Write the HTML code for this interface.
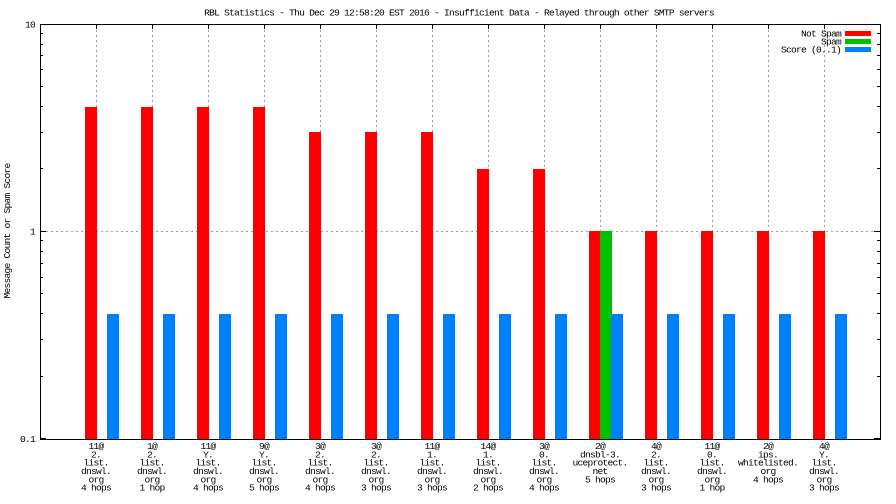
<!DOCTYPE html>
<html>
<head>
<meta charset="utf-8">
<style>
html,body{margin:0;padding:0;background:#fff;}
svg{display:block;}
text{font-family:"Liberation Mono","DejaVu Sans Mono",monospace;font-size:9.6px;letter-spacing:-0.76px;fill:#000;}
</style>
</head>
<body>
<svg width="896" height="504" viewBox="0 0 896 504" xmlns="http://www.w3.org/2000/svg">
<rect x="0" y="0" width="896" height="504" fill="#fff"/>

<!-- grid -->
<g stroke="#a0a0a0" stroke-width="1" stroke-dasharray="2,3" shape-rendering="crispEdges">
  <line x1="41" y1="231.5" x2="880" y2="231.5"/>
  <line x1="96.5" y1="25" x2="96.5" y2="439"/>
  <line x1="152.5" y1="25" x2="152.5" y2="439"/>
  <line x1="208.5" y1="25" x2="208.5" y2="439"/>
  <line x1="264.5" y1="25" x2="264.5" y2="439"/>
  <line x1="320.5" y1="25" x2="320.5" y2="439"/>
  <line x1="376.5" y1="25" x2="376.5" y2="439"/>
  <line x1="432.5" y1="25" x2="432.5" y2="439"/>
  <line x1="488.5" y1="25" x2="488.5" y2="439"/>
  <line x1="544.5" y1="25" x2="544.5" y2="439"/>
  <line x1="600.5" y1="25" x2="600.5" y2="439"/>
  <line x1="656.5" y1="25" x2="656.5" y2="439"/>
  <line x1="712.5" y1="25" x2="712.5" y2="439"/>
  <line x1="768.5" y1="25" x2="768.5" y2="439"/>
  <line x1="824.5" y1="25" x2="824.5" y2="439"/>
</g>

<!-- bars -->
<g shape-rendering="crispEdges">
  <g fill="#ff0000">
    <rect x="85" y="107" width="12" height="332"/>
    <rect x="141" y="107" width="12" height="332"/>
    <rect x="197" y="107" width="12" height="332"/>
    <rect x="253" y="107" width="12" height="332"/>
    <rect x="309" y="132" width="12" height="307"/>
    <rect x="365" y="132" width="12" height="307"/>
    <rect x="421" y="132" width="12" height="307"/>
    <rect x="477" y="169" width="12" height="270"/>
    <rect x="533" y="169" width="12" height="270"/>
    <rect x="589" y="231" width="12" height="208"/>
    <rect x="645" y="231" width="12" height="208"/>
    <rect x="701" y="231" width="12" height="208"/>
    <rect x="757" y="231" width="12" height="208"/>
    <rect x="813" y="231" width="12" height="208"/>
  </g>
  <rect x="600" y="231" width="12" height="208" fill="#00c000"/>
  <g fill="#0080ff">
    <rect x="107" y="314" width="12" height="125"/>
    <rect x="163" y="314" width="12" height="125"/>
    <rect x="219" y="314" width="12" height="125"/>
    <rect x="275" y="314" width="12" height="125"/>
    <rect x="331" y="314" width="12" height="125"/>
    <rect x="387" y="314" width="12" height="125"/>
    <rect x="443" y="314" width="12" height="125"/>
    <rect x="499" y="314" width="12" height="125"/>
    <rect x="555" y="314" width="12" height="125"/>
    <rect x="611" y="314" width="12" height="125"/>
    <rect x="667" y="314" width="12" height="125"/>
    <rect x="723" y="314" width="12" height="125"/>
    <rect x="779" y="314" width="12" height="125"/>
    <rect x="835" y="314" width="12" height="125"/>
  </g>
</g>

<!-- border and ticks -->
<g stroke="#000" stroke-width="1" fill="none" shape-rendering="crispEdges">
  <rect x="40.5" y="24.5" width="840" height="415"/>
  <line x1="40" y1="24.5" x2="46" y2="24.5"/>
  <line x1="40" y1="231.5" x2="46" y2="231.5"/>
  <line x1="40" y1="438.5" x2="46" y2="438.5"/>
  <line x1="874" y1="24.5" x2="880" y2="24.5"/>
  <line x1="874" y1="231.5" x2="880" y2="231.5"/>
  <line x1="874" y1="438.5" x2="880" y2="438.5"/>
  <line x1="40" y1="33.5" x2="43" y2="33.5"/>
  <line x1="40" y1="44.5" x2="43" y2="44.5"/>
  <line x1="40" y1="55.5" x2="43" y2="55.5"/>
  <line x1="40" y1="69.5" x2="43" y2="69.5"/>
  <line x1="40" y1="86.5" x2="43" y2="86.5"/>
  <line x1="40" y1="106.5" x2="43" y2="106.5"/>
  <line x1="40" y1="132.5" x2="43" y2="132.5"/>
  <line x1="40" y1="168.5" x2="43" y2="168.5"/>
  <line x1="40" y1="240.5" x2="43" y2="240.5"/>
  <line x1="40" y1="251.5" x2="43" y2="251.5"/>
  <line x1="40" y1="263.5" x2="43" y2="263.5"/>
  <line x1="40" y1="277.5" x2="43" y2="277.5"/>
  <line x1="40" y1="293.5" x2="43" y2="293.5"/>
  <line x1="40" y1="313.5" x2="43" y2="313.5"/>
  <line x1="40" y1="339.5" x2="43" y2="339.5"/>
  <line x1="40" y1="376.5" x2="43" y2="376.5"/>
  <line x1="877" y1="33.5" x2="880" y2="33.5"/>
  <line x1="877" y1="44.5" x2="880" y2="44.5"/>
  <line x1="877" y1="55.5" x2="880" y2="55.5"/>
  <line x1="877" y1="69.5" x2="880" y2="69.5"/>
  <line x1="877" y1="86.5" x2="880" y2="86.5"/>
  <line x1="877" y1="106.5" x2="880" y2="106.5"/>
  <line x1="877" y1="132.5" x2="880" y2="132.5"/>
  <line x1="877" y1="168.5" x2="880" y2="168.5"/>
  <line x1="877" y1="240.5" x2="880" y2="240.5"/>
  <line x1="877" y1="251.5" x2="880" y2="251.5"/>
  <line x1="877" y1="263.5" x2="880" y2="263.5"/>
  <line x1="877" y1="277.5" x2="880" y2="277.5"/>
  <line x1="877" y1="293.5" x2="880" y2="293.5"/>
  <line x1="877" y1="313.5" x2="880" y2="313.5"/>
  <line x1="877" y1="339.5" x2="880" y2="339.5"/>
  <line x1="877" y1="376.5" x2="880" y2="376.5"/>
  <line x1="96.5" y1="24" x2="96.5" y2="29"/>
  <line x1="152.5" y1="24" x2="152.5" y2="29"/>
  <line x1="208.5" y1="24" x2="208.5" y2="29"/>
  <line x1="264.5" y1="24" x2="264.5" y2="29"/>
  <line x1="320.5" y1="24" x2="320.5" y2="29"/>
  <line x1="376.5" y1="24" x2="376.5" y2="29"/>
  <line x1="432.5" y1="24" x2="432.5" y2="29"/>
  <line x1="488.5" y1="24" x2="488.5" y2="29"/>
  <line x1="544.5" y1="24" x2="544.5" y2="29"/>
  <line x1="600.5" y1="24" x2="600.5" y2="29"/>
  <line x1="656.5" y1="24" x2="656.5" y2="29"/>
  <line x1="712.5" y1="24" x2="712.5" y2="29"/>
  <line x1="768.5" y1="24" x2="768.5" y2="29"/>
  <line x1="824.5" y1="24" x2="824.5" y2="29"/>
</g>

<!-- title -->
<text x="459" y="15.5" text-anchor="middle">RBL Statistics - Thu Dec 29 12:58:20 EST 2016 - Insufficient Data - Relayed through other SMTP servers</text>

<!-- y tick labels -->
<text x="35" y="27.5" text-anchor="end">10</text>
<text x="35" y="234.5" text-anchor="end">1</text>
<text x="35" y="442" text-anchor="end">0.1</text>

<!-- y axis label -->
<text x="10" y="231" text-anchor="middle" transform="rotate(-90 10 231)">Message Count or Spam Score</text>

<!-- legend -->
<text x="841" y="36.5" text-anchor="end">Not Spam</text>
<text x="841" y="44.5" text-anchor="end">Spam</text>
<text x="841" y="52.5" text-anchor="end">Score (0..1)</text>
<g shape-rendering="crispEdges">
  <rect x="845" y="31" width="26" height="5" fill="#ff0000"/>
  <rect x="845" y="39" width="26" height="5" fill="#00c000"/>
  <rect x="845" y="47" width="26" height="5" fill="#0080ff"/>
</g>

<!-- x labels -->
<g text-anchor="middle">
  <text x="96" y="449">11@</text><text x="96" y="457.3">2.</text><text x="96" y="465.7">list.</text><text x="96" y="474">dnswl.</text><text x="96" y="482.3">org</text><text x="96" y="490.7">4 hops</text>
  <text x="152" y="449">1@</text><text x="152" y="457.3">2.</text><text x="152" y="465.7">list.</text><text x="152" y="474">dnswl.</text><text x="152" y="482.3">org</text><text x="152" y="490.7">1 hop</text>
  <text x="208" y="449">11@</text><text x="208" y="457.3">Y.</text><text x="208" y="465.7">list.</text><text x="208" y="474">dnswl.</text><text x="208" y="482.3">org</text><text x="208" y="490.7">4 hops</text>
  <text x="264" y="449">9@</text><text x="264" y="457.3">Y.</text><text x="264" y="465.7">list.</text><text x="264" y="474">dnswl.</text><text x="264" y="482.3">org</text><text x="264" y="490.7">5 hops</text>
  <text x="320" y="449">3@</text><text x="320" y="457.3">2.</text><text x="320" y="465.7">list.</text><text x="320" y="474">dnswl.</text><text x="320" y="482.3">org</text><text x="320" y="490.7">4 hops</text>
  <text x="376" y="449">3@</text><text x="376" y="457.3">2.</text><text x="376" y="465.7">list.</text><text x="376" y="474">dnswl.</text><text x="376" y="482.3">org</text><text x="376" y="490.7">3 hops</text>
  <text x="432" y="449">11@</text><text x="432" y="457.3">1.</text><text x="432" y="465.7">list.</text><text x="432" y="474">dnswl.</text><text x="432" y="482.3">org</text><text x="432" y="490.7">3 hops</text>
  <text x="488" y="449">14@</text><text x="488" y="457.3">1.</text><text x="488" y="465.7">list.</text><text x="488" y="474">dnswl.</text><text x="488" y="482.3">org</text><text x="488" y="490.7">2 hops</text>
  <text x="544" y="449">3@</text><text x="544" y="457.3">0.</text><text x="544" y="465.7">list.</text><text x="544" y="474">dnswl.</text><text x="544" y="482.3">org</text><text x="544" y="490.7">4 hops</text>
  <text x="600" y="449">2@</text><text x="600" y="457.3">dnsbl-3.</text><text x="600" y="465.7">uceprotect.</text><text x="600" y="474">net</text><text x="600" y="482.3">5 hops</text>
  <text x="656" y="449">4@</text><text x="656" y="457.3">2.</text><text x="656" y="465.7">list.</text><text x="656" y="474">dnswl.</text><text x="656" y="482.3">org</text><text x="656" y="490.7">3 hops</text>
  <text x="712" y="449">11@</text><text x="712" y="457.3">0.</text><text x="712" y="465.7">list.</text><text x="712" y="474">dnswl.</text><text x="712" y="482.3">org</text><text x="712" y="490.7">1 hop</text>
  <text x="768" y="449">2@</text><text x="768" y="457.3">ips.</text><text x="768" y="465.7">whitelisted.</text><text x="768" y="474">org</text><text x="768" y="482.3">4 hops</text>
  <text x="824" y="449">4@</text><text x="824" y="457.3">Y.</text><text x="824" y="465.7">list.</text><text x="824" y="474">dnswl.</text><text x="824" y="482.3">org</text><text x="824" y="490.7">3 hops</text>
</g>
</svg>
</body>
</html>
